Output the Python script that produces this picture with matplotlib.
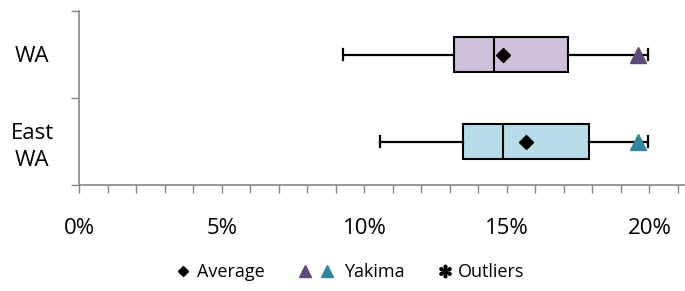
import matplotlib
matplotlib.use("Agg")
import matplotlib.pyplot as plt
from matplotlib.lines import Line2D
from matplotlib.legend_handler import HandlerTuple
from matplotlib.ticker import MultipleLocator, FuncFormatter

plt.rcParams['font.family'] = ['Open Sans', 'DejaVu Sans']

# data (fractions)
regions = ["WA", "East\nWA"]
whisker_low = [0.0926, 0.1054]
q1 = [0.1316, 0.1347]
median = [0.1456, 0.1488]
q3 = [0.1716, 0.1787]
whisker_high = [0.1994, 0.1994]
average = [0.1485, 0.1568]
yakima = [0.1960, 0.1960]
legend_labels = ["Average", "Yakima", "Outliers"]

box_colors = ["#CCC0DA", "#B7DEE8"]
tri_colors = ["#604A7B", "#31859C"]
positions = [1, 0]

W, H = 685, 291
fig = plt.figure(figsize=(W/100, H/100), dpi=100)
ax = fig.add_axes([79.4/W, 1-185/H, 1-79.4/W, (185-11)/H])

stats = []
for i, r in enumerate(regions):
    stats.append(dict(label=r, whislo=whisker_low[i], q1=q1[i], med=median[i],
                      q3=q3[i], whishi=whisker_high[i], mean=average[i], fliers=[]))

bp = ax.bxp(stats, positions=positions, vert=False, widths=0.4, patch_artist=True,
            showmeans=True, showfliers=False, capwidths=0.125,
            boxprops=dict(linewidth=1.5, edgecolor='black'),
            whiskerprops=dict(linewidth=1.6, color='black'),
            capprops=dict(linewidth=1.6, color='black'),
            medianprops=dict(linewidth=1.5, color='black'),
            meanprops=dict(marker='D', markerfacecolor='black', markeredgecolor='black',
                           markersize=7.5))
for patch, c in zip(bp['boxes'], box_colors):
    patch.set_facecolor(c)

for i in range(len(regions)):
    ax.plot(yakima[i], positions[i], marker='^', color=tri_colors[i], markersize=11,
            linestyle='none', zorder=5)

ax.set_xlim(0, 0.2125)
ax.set_ylim(-0.5, 1.5)
ax.xaxis.set_major_locator(MultipleLocator(0.05))
ax.xaxis.set_minor_locator(MultipleLocator(0.01))
ax.xaxis.set_major_formatter(FuncFormatter(lambda v, p: f"{v*100:.0f}%"))
ax.tick_params(axis='x', which='both', direction='out', length=6, width=1, color='#868686',
               labelsize=16, pad=18)
ax.set_yticks([-0.5, 0.5, 1.5])
ax.set_yticklabels([])
ax.set_yticks(positions, minor=True)
ax.set_yticklabels(regions, minor=True, fontsize=16, multialignment='center', ha='center',
                   linespacing=1.35)
ax.tick_params(axis='y', which='major', direction='out', length=6, width=1, color='#868686')
ax.tick_params(axis='y', which='minor', length=0, pad=34)
for s in ['top', 'right']:
    ax.spines[s].set_visible(False)
for s in ['left', 'bottom']:
    ax.spines[s].set_color('#868686')
    ax.spines[s].set_linewidth(1.2)

fs = 13
fs_px = fs * 100 / 72
ly = 1 - 272/H

h_avg = Line2D([], [], marker='D', color='black', linestyle='none', markersize=5.5)
h_y1 = Line2D([], [], marker='^', color=tri_colors[0], linestyle='none', markersize=9)
h_y2 = Line2D([], [], marker='^', color=tri_colors[1], linestyle='none', markersize=9)
h_out = Line2D([], [], marker='$\u273B$', color='black', linestyle='none', markersize=9)

common = dict(loc='center left', frameon=False, fontsize=fs, borderpad=0, borderaxespad=0)
# Average
fig.legend([h_avg], [legend_labels[0]], bbox_to_anchor=(178/W, ly),
           handlelength=10/fs_px, handletextpad=9/fs_px, **common)
# Yakima (two triangles)
fig.legend([(h_y1, h_y2)], [legend_labels[1]], bbox_to_anchor=(298/W, ly),
           handler_map={tuple: HandlerTuple(ndivide=None, pad=8/fs_px)},
           handlelength=36/fs_px, handletextpad=10/fs_px, **common)
# Outliers
fig.legend([h_out], [legend_labels[2]], bbox_to_anchor=(440/W, ly),
           handlelength=10/fs_px, handletextpad=8/fs_px, **common)

fig.savefig("out.png", dpi=100)
